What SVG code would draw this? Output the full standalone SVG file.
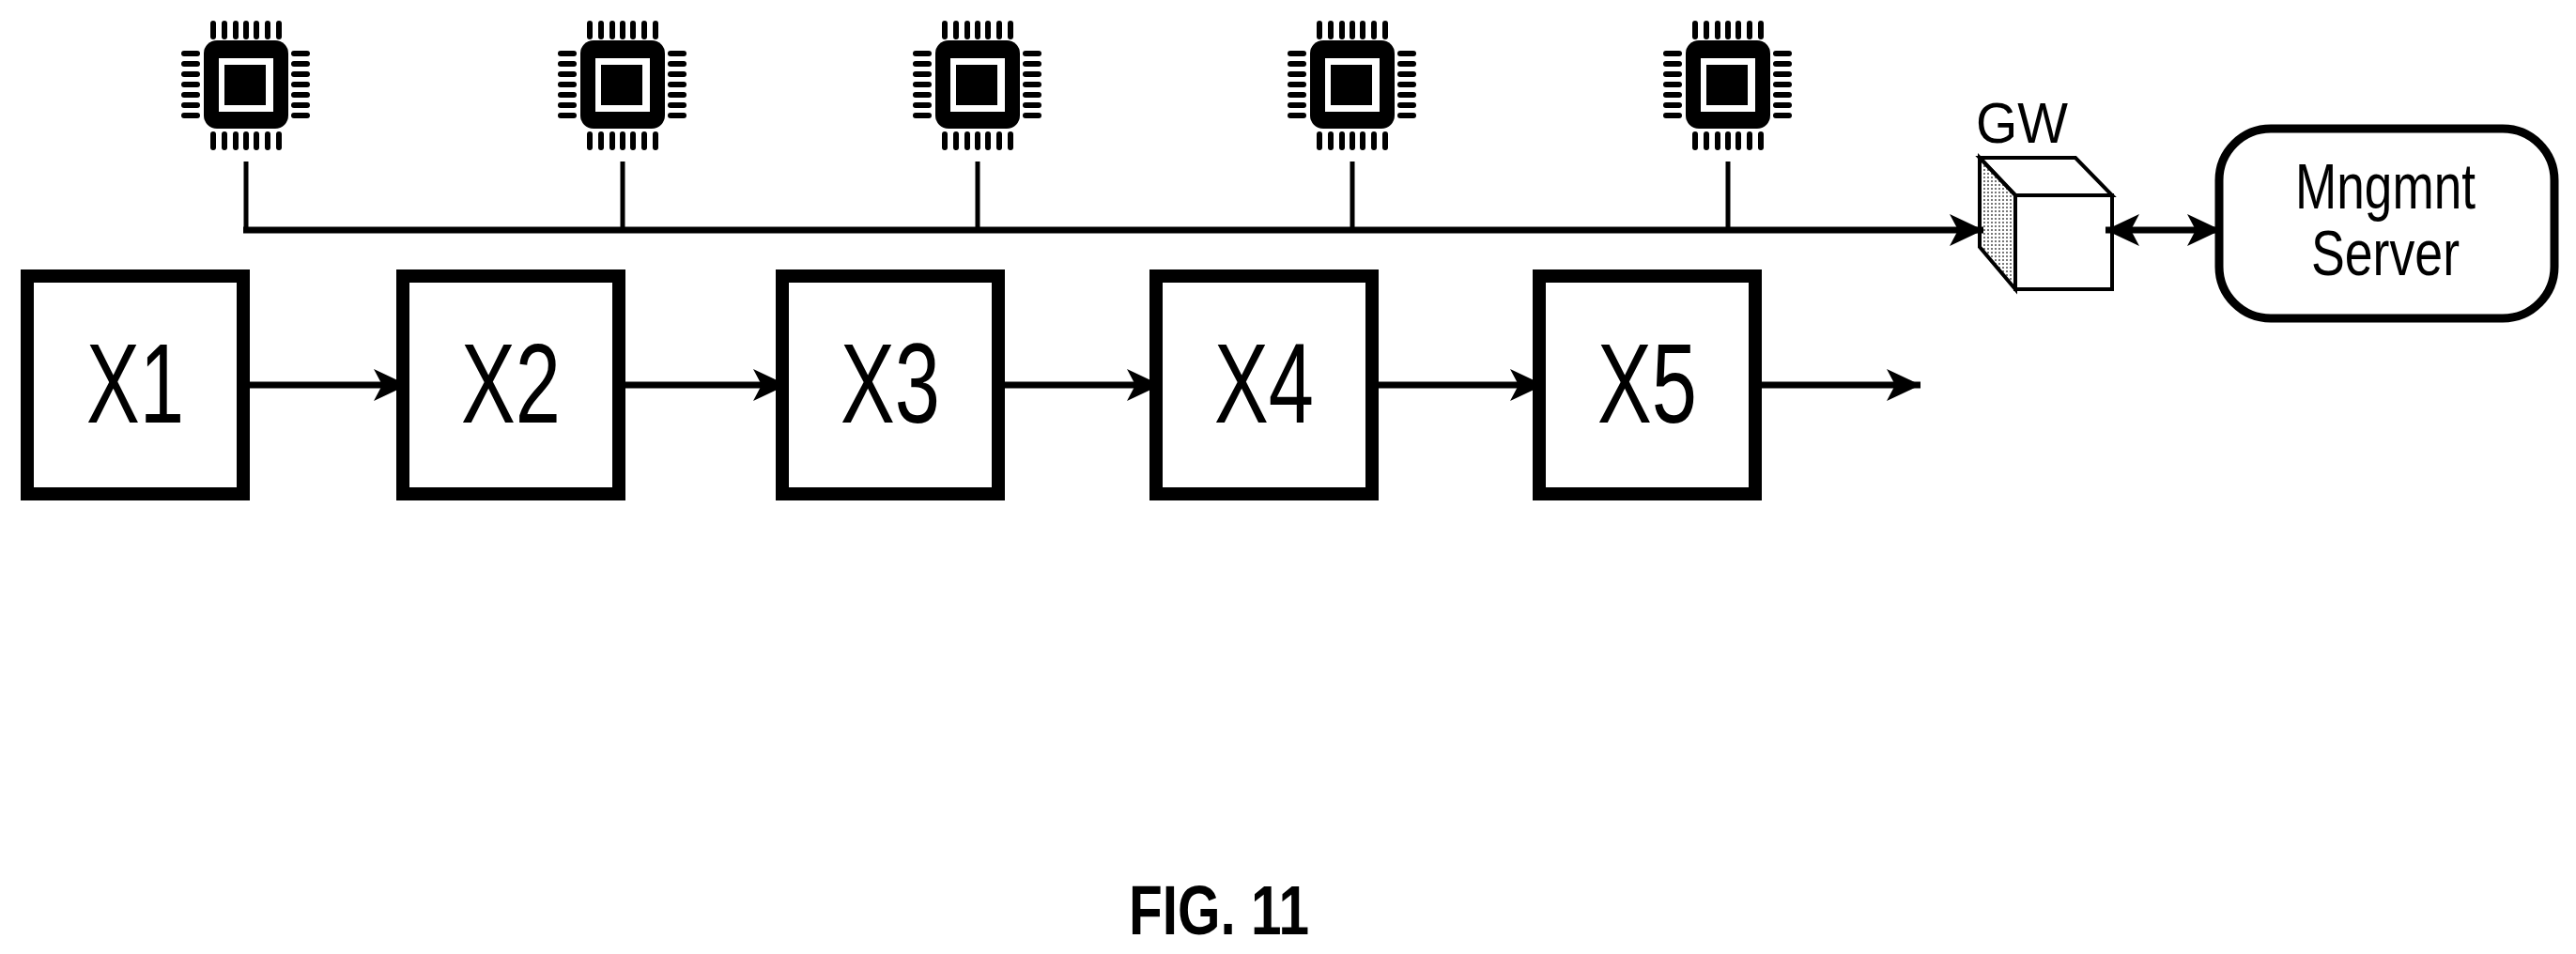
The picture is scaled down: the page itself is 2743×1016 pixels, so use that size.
<svg xmlns="http://www.w3.org/2000/svg" width="2743" height="1016" viewBox="0 0 2743 1016">
<style>
.box{fill:#fff;stroke:#000;stroke-width:14}
.ln{stroke:#000;stroke-width:7;fill:none}
.thin{stroke:#000;stroke-width:5;fill:none}
.lbl{font-family:"Liberation Sans",Arial,sans-serif;fill:#000}
.xl{font-size:120px}
</style>
<defs>
<pattern id="dots" width="4" height="4" patternUnits="userSpaceOnUse"><rect width="4" height="4" fill="#fff"/><rect width="2" height="2" fill="#777"/></pattern>
<marker id="big" viewBox="0 0 10 10" refX="10" refY="5" markerWidth="36" markerHeight="34" orient="auto-start-reverse" markerUnits="userSpaceOnUse" preserveAspectRatio="none"><path d="M0,0 L10,5 L0,10 L2.5,5 z" fill="#000"/></marker>
<g id="chip">
<rect x="-45" y="-47" width="90" height="94" rx="14" fill="#000"/>
<rect x="-29" y="-28" width="58" height="57" fill="#fff"/>
<rect x="-23" y="-21" width="44" height="43" fill="#000"/>
<g fill="#000">
<rect x="-38" y="-68" width="6" height="20" rx="3"/><rect x="-26" y="-68" width="6" height="20" rx="3"/><rect x="-14" y="-68" width="6" height="20" rx="3"/><rect x="-3" y="-68" width="6" height="20" rx="3"/><rect x="8" y="-68" width="6" height="20" rx="3"/><rect x="20" y="-68" width="6" height="20" rx="3"/><rect x="32" y="-68" width="6" height="20" rx="3"/>
<rect x="-38" y="50" width="6" height="20" rx="3"/><rect x="-26" y="50" width="6" height="20" rx="3"/><rect x="-14" y="50" width="6" height="20" rx="3"/><rect x="-3" y="50" width="6" height="20" rx="3"/><rect x="8" y="50" width="6" height="20" rx="3"/><rect x="20" y="50" width="6" height="20" rx="3"/><rect x="32" y="50" width="6" height="20" rx="3"/>
<rect x="-69" y="-36" width="20" height="6" rx="3"/><rect x="-69" y="-25" width="20" height="6" rx="3"/><rect x="-69" y="-14" width="20" height="6" rx="3"/><rect x="-69" y="-3" width="20" height="6" rx="3"/><rect x="-69" y="8" width="20" height="6" rx="3"/><rect x="-69" y="19" width="20" height="6" rx="3"/><rect x="-69" y="30" width="20" height="6" rx="3"/>
<rect x="48" y="-36" width="20" height="6" rx="3"/><rect x="48" y="-25" width="20" height="6" rx="3"/><rect x="48" y="-14" width="20" height="6" rx="3"/><rect x="48" y="-3" width="20" height="6" rx="3"/><rect x="48" y="8" width="20" height="6" rx="3"/><rect x="48" y="19" width="20" height="6" rx="3"/><rect x="48" y="30" width="20" height="6" rx="3"/>
</g>
</g>
</defs>
<rect width="2743" height="1016" fill="#fff"/>
<g id="sensor1"><use href="#chip" x="262" y="90"/></g>
<g id="sensor2"><use href="#chip" x="663" y="90"/></g>
<g id="sensor3"><use href="#chip" x="1041" y="90"/></g>
<g id="sensor4"><use href="#chip" x="1440" y="90"/></g>
<g id="sensor5"><use href="#chip" x="1840" y="90"/></g>

<g id="x1"><rect class="box" x="29" y="294" width="230" height="232"/><text class="lbl xl" x="144" y="450" text-anchor="middle" textLength="104" lengthAdjust="spacingAndGlyphs">X1</text></g>
<g id="x2"><rect class="box" x="429" y="294" width="230" height="232"/><text class="lbl xl" x="544" y="450" text-anchor="middle" textLength="106" lengthAdjust="spacingAndGlyphs">X2</text></g>
<g id="x3"><rect class="box" x="833" y="294" width="230" height="232"/><text class="lbl xl" x="948" y="450" text-anchor="middle" textLength="106" lengthAdjust="spacingAndGlyphs">X3</text></g>
<g id="x4"><rect class="box" x="1231" y="294" width="230" height="232"/><text class="lbl xl" x="1346" y="450" text-anchor="middle" textLength="106" lengthAdjust="spacingAndGlyphs">X4</text></g>
<g id="x5"><rect class="box" x="1639" y="294" width="230" height="232"/><text class="lbl xl" x="1754" y="450" text-anchor="middle" textLength="106" lengthAdjust="spacingAndGlyphs">X5</text></g>

<g id="gw">
<polygon points="2108,168 2210,168 2249,208 2146,208" fill="#fff" stroke="#000" stroke-width="4"/>
<polygon points="2108,168 2146,208 2146,308 2108,263" fill="url(#dots)" stroke="#000" stroke-width="4"/>
<rect x="2146" y="208" width="103" height="100" fill="#fff" stroke="#000" stroke-width="4"/>
<text class="lbl" x="2153" y="152" font-size="62" text-anchor="middle" textLength="98" lengthAdjust="spacingAndGlyphs">GW</text>
</g>
<g id="server">
<rect x="2363" y="137" width="357" height="202" rx="55" fill="#fff" stroke="#000" stroke-width="9"/>
<text class="lbl" x="2540" y="222" font-size="68" text-anchor="middle" textLength="192" lengthAdjust="spacingAndGlyphs">Mngmnt</text>
<text class="lbl" x="2540" y="293" font-size="68" text-anchor="middle" textLength="158" lengthAdjust="spacingAndGlyphs">Server</text>
</g>

<g id="connectors">
<path class="thin" d="M262,172 V245 M663,172 V245 M1041,172 V245 M1440,172 V245 M1840,172 V245"/>
<line class="ln" x1="259" y1="245" x2="2112" y2="245" marker-end="url(#big)"/>
<line class="ln" x1="2242" y1="245" x2="2365" y2="245" marker-start="url(#big)" marker-end="url(#big)"/>
<line class="ln" x1="266" y1="410" x2="434" y2="410" marker-end="url(#big)"/>
<line class="ln" x1="666" y1="410" x2="838" y2="410" marker-end="url(#big)"/>
<line class="ln" x1="1070" y1="410" x2="1236" y2="410" marker-end="url(#big)"/>
<line class="ln" x1="1468" y1="410" x2="1644" y2="410" marker-end="url(#big)"/>
<line class="ln" x1="1876" y1="410" x2="2045" y2="410" marker-end="url(#big)"/>
</g>
<text class="lbl" x="1298" y="995" font-size="74" font-weight="bold" text-anchor="middle" textLength="192" lengthAdjust="spacingAndGlyphs">FIG. 11</text>
</svg>
